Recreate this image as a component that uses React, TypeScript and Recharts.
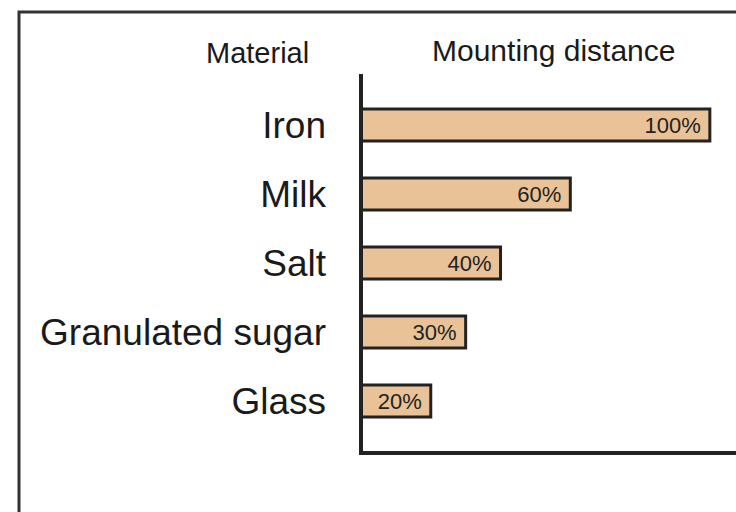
import React from 'react';
import { BarChart, Bar, XAxis, YAxis, LabelList, Customized } from 'recharts';

const categories = ['Iron', 'Milk', 'Salt', 'Granulated sugar', 'Glass'];
const values = [100, 60, 40, 30, 20];
const valueLabels = ['100%', '60%', '40%', '30%', '20%'];
const headerLeft = 'Material';
const headerRight = 'Mounting distance';

const data = categories.map((name, i) => ({ name, value: values[i], label: valueLabels[i] }));

const FONT = '"Liberation Sans", Arial, Helvetica, sans-serif';

const Decor = () => (
  <g>
    <path d="M19 520 L19 12 L740 12" fill="none" stroke="#333" strokeWidth={3} />
    <text x={206} y={63} fontSize={29} fontFamily={FONT} fill="#1a1a1a">{headerLeft}</text>
    <text x={432} y={61} fontSize={30} fontFamily={FONT} fill="#1a1a1a">{headerRight}</text>
  </g>
);

export default function App() {
  return (
    <div style={{ position: 'fixed', left: 0, top: 0, width: 736, height: 512, overflow: 'hidden', background: '#fff' }}>
      <BarChart
        width={736}
        height={512}
        layout="vertical"
        data={data}
        margin={{ top: 76, right: 0, bottom: 58, left: 0 }}
      >
        <Customized component={Decor} />
        <XAxis
          type="number"
          domain={[0, 107.5]}
          allowDataOverflow
          tick={false}
          tickLine={false}
          height={1}
          axisLine={{ stroke: '#222', strokeWidth: 4, strokeLinecap: 'square' }}
        />
        <YAxis
          type="category"
          dataKey="name"
          width={361}
          interval={0}
          tickLine={false}
          tickSize={0}
          tickMargin={35}
          padding={{ top: 14, bottom: 18 }}
          axisLine={{ stroke: '#222', strokeWidth: 4, strokeLinecap: 'square' }}
          tick={{ fontSize: 37, fill: '#1a1a1a', fontFamily: FONT }}
        />
        <Bar dataKey="value" fill="#E9C397" stroke="#222" strokeWidth={3} barSize={32} isAnimationActive={false}>
          <LabelList dataKey="label" position="insideRight" offset={9} fontSize={22} fill="#222" fontFamily={FONT} />
        </Bar>
      </BarChart>
    </div>
  );
}
